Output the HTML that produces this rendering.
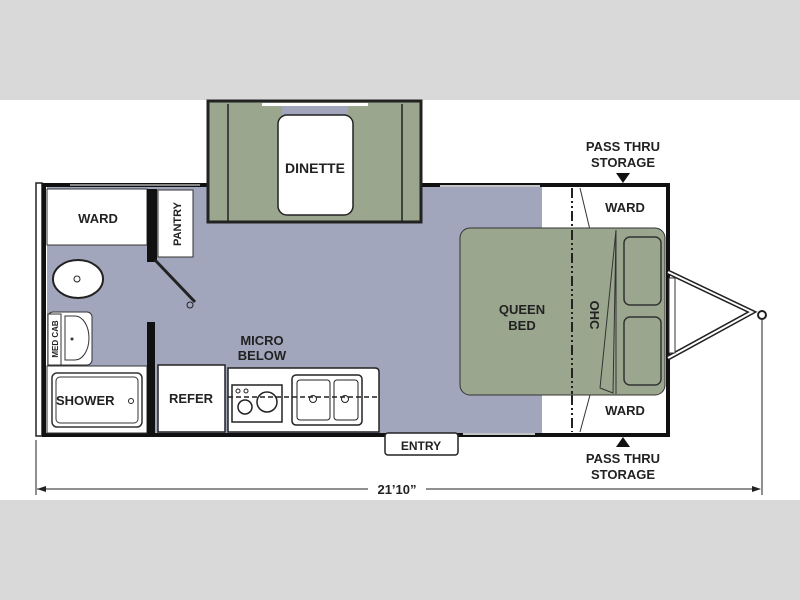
<!DOCTYPE html>
<html><head><style>
html,body{margin:0;padding:0;background:#fff}
svg{display:block}
text{font-family:"Liberation Sans",sans-serif;font-weight:bold;fill:#222}
</style></head><body>
<svg width="800" height="600" viewBox="0 0 800 600" xmlns="http://www.w3.org/2000/svg">
<rect x="0" y="0" width="800" height="100" fill="#d9d9d9"/>
<rect x="0" y="500" width="800" height="100" fill="#d9d9d9"/>
<rect x="0" y="100" width="800" height="400" fill="#fff"/>
<!-- floor -->
<rect x="47" y="187" width="495" height="246" fill="#a2a6bc"/>
<rect x="542" y="187" width="126" height="246" fill="#fff"/>
<!-- outer walls -->
<rect x="36" y="183" width="6" height="253" fill="#fff" stroke="#222" stroke-width="1.5"/>
<path d="M208 185 H44 V435 H668 V185 H421" fill="none" stroke="#111" stroke-width="4"/>
<line x1="70" y1="185" x2="200" y2="185" stroke="#fff" stroke-width="1"/>
<line x1="440" y1="186" x2="540" y2="186" stroke="#fff" stroke-width="1.5"/>
<line x1="463" y1="434" x2="535" y2="434" stroke="#fff" stroke-width="1.5"/>
<!-- slideout -->
<rect x="208" y="101" width="213" height="121" fill="#9ba68e" stroke="#222" stroke-width="3"/>
<line x1="228" y1="104" x2="228" y2="222" stroke="#222" stroke-width="1.5"/>
<line x1="402" y1="104" x2="402" y2="222" stroke="#222" stroke-width="1.5"/>
<rect x="282" y="104" width="66" height="14" fill="#a2a6bc"/>
<rect x="262" y="103" width="106" height="3" fill="#fff"/>
<rect x="278" y="115" width="75" height="100" rx="9" fill="#fff" stroke="#222" stroke-width="1.5"/>
<text x="315" y="173" font-size="14" text-anchor="middle">DINETTE</text>
<!-- ward top left -->
<rect x="47" y="189" width="100" height="56" fill="#fff" stroke="#333" stroke-width="1"/>
<text x="98" y="223" font-size="13" text-anchor="middle">WARD</text>
<rect x="147" y="189" width="10" height="73" fill="#111"/>
<rect x="158" y="190" width="35" height="67" fill="#fff" stroke="#333" stroke-width="1"/>
<text transform="translate(181,224) rotate(-90)" font-size="11" text-anchor="middle">PANTRY</text>
<line x1="155" y1="260" x2="195" y2="302" stroke="#222" stroke-width="3"/>
<circle cx="190" cy="305" r="3" fill="none" stroke="#222"/>
<!-- toilet -->
<ellipse cx="78" cy="279" rx="25" ry="19" fill="#fff" stroke="#222" stroke-width="2"/>
<circle cx="77" cy="279" r="3" fill="none" stroke="#222"/>
<!-- med cab sink -->
<rect x="48" y="312" width="44" height="53" rx="5" fill="#fff" stroke="#333"/>
<rect x="48" y="314" width="13" height="51" fill="#fff" stroke="#333"/>
<text transform="translate(58,339) rotate(-90)" font-size="8" text-anchor="middle">MED CAB</text>
<path d="M65 316 H75 A14 22 0 0 1 75 360 H65 Z" fill="#fff" stroke="#333"/>
<circle cx="72" cy="339" r="1.5" fill="#333"/>
<!-- shower -->
<rect x="47" y="366" width="100" height="67" fill="#fff" stroke="#333"/>
<rect x="52" y="373" width="90" height="54" rx="5" fill="#fff" stroke="#333" stroke-width="1.5"/>
<rect x="56" y="377" width="82" height="46" rx="4" fill="none" stroke="#333"/>
<text x="56" y="405" font-size="13">SHOWER</text>
<circle cx="131" cy="401" r="2.5" fill="none" stroke="#222"/>
<rect x="147" y="322" width="8" height="111" fill="#111"/>
<!-- refer -->
<rect x="158" y="365" width="67" height="67" fill="#fff" stroke="#222" stroke-width="1.5"/>
<text x="191" y="403" font-size="13" text-anchor="middle">REFER</text>
<!-- counter -->
<path d="M228 368 H375 Q379 368 379 372 V432 H228 Z" fill="#fff" stroke="#222" stroke-width="1.5"/>
<rect x="232" y="385" width="50" height="37" fill="#fff" stroke="#222" stroke-width="1.5"/>
<circle cx="245" cy="407" r="7" fill="none" stroke="#222" stroke-width="1.5"/>
<circle cx="267" cy="402" r="10" fill="none" stroke="#222" stroke-width="1.5"/>
<circle cx="238" cy="391" r="2" fill="none" stroke="#222"/>
<circle cx="246" cy="391" r="2" fill="none" stroke="#222"/>
<rect x="292" y="375" width="70" height="50" rx="4" fill="#fff" stroke="#222" stroke-width="1.5"/>
<rect x="297" y="380" width="33" height="40" rx="3" fill="none" stroke="#222"/>
<rect x="334" y="380" width="24" height="40" rx="3" fill="none" stroke="#222"/>
<circle cx="313" cy="399" r="3.5" fill="none" stroke="#222"/>
<circle cx="345" cy="399" r="3.5" fill="none" stroke="#222"/>
<line x1="228" y1="397" x2="379" y2="397" stroke="#222" stroke-width="1.5" stroke-dasharray="5,3"/>
<text x="262" y="345" font-size="13" text-anchor="middle">MICRO</text>
<text x="262" y="360" font-size="13" text-anchor="middle">BELOW</text>
<!-- entry -->
<rect x="385" y="433" width="73" height="22" rx="3" fill="#fff" stroke="#222" stroke-width="1.5"/>
<text x="421" y="450" font-size="12" text-anchor="middle">ENTRY</text>
<!-- right end -->
<line x1="572" y1="188" x2="572" y2="432" stroke="#222" stroke-width="2" stroke-dasharray="10,3,2,3,2,3"/>
<line x1="580" y1="188" x2="590" y2="230" stroke="#333"/>
<line x1="580" y1="432" x2="590" y2="395" stroke="#333"/>
<text x="625" y="212" font-size="13" text-anchor="middle">WARD</text>
<text x="625" y="415" font-size="13" text-anchor="middle">WARD</text>
<rect x="460" y="228" width="205" height="167" rx="10" fill="#9ba68e" stroke="#333" stroke-width="1"/>
<line x1="572" y1="230" x2="572" y2="394" stroke="#222" stroke-width="2" stroke-dasharray="10,3,2,3,2,3"/>
<path d="M616 230 L600 388 L613 393 Z" fill="none" stroke="#333"/>
<line x1="616" y1="230" x2="616" y2="394" stroke="#333"/>
<rect x="624" y="237" width="37" height="68" rx="6" fill="none" stroke="#333" stroke-width="1.5"/>
<rect x="624" y="317" width="37" height="68" rx="6" fill="none" stroke="#333" stroke-width="1.5"/>
<text x="522" y="314" font-size="13" text-anchor="middle">QUEEN</text>
<text x="522" y="330" font-size="13" text-anchor="middle">BED</text>
<text transform="translate(590,315) rotate(90)" font-size="13" text-anchor="middle">OHC</text>
<!-- hitch -->
<path d="M668 272 L752 312 L668 358" fill="none" stroke="#222" stroke-width="5"/>
<path d="M668 272 L752 312 L668 358" fill="none" stroke="#fff" stroke-width="2"/>
<rect x="669" y="278" width="6" height="75" fill="#fff" stroke="#333"/>
<circle cx="762" cy="315" r="4" fill="#fff" stroke="#222" stroke-width="2"/>
<line x1="762" y1="318" x2="762" y2="495" stroke="#222"/>
<!-- pass thru -->
<text x="623" y="151" font-size="13" text-anchor="middle">PASS THRU</text>
<text x="623" y="167" font-size="13" text-anchor="middle">STORAGE</text>
<path d="M616 173 H630 L623 183 Z" fill="#111"/>
<path d="M616 447 H630 L623 437 Z" fill="#111"/>
<text x="623" y="463" font-size="13" text-anchor="middle">PASS THRU</text>
<text x="623" y="479" font-size="13" text-anchor="middle">STORAGE</text>
<!-- dimension -->
<line x1="36" y1="440" x2="36" y2="495" stroke="#222"/>
<line x1="37" y1="489" x2="760" y2="489" stroke="#222"/>
<path d="M37 489 L46 486 L46 492 Z M761 489 L752 486 L752 492 Z" fill="#222"/>
<rect x="368" y="480" width="58" height="16" fill="#fff"/>
<text x="397" y="494" font-size="13" text-anchor="middle">21’10”</text>
</svg>
</body></html>
